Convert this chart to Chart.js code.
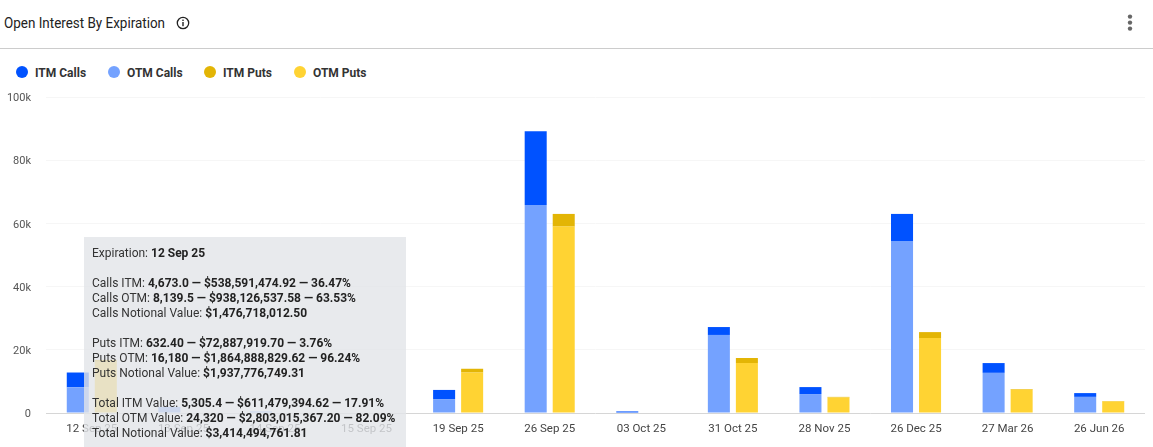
<!DOCTYPE html>
<html>
<head>
<meta charset="utf-8">
<title>Open Interest By Expiration</title>
<script src="https://cdn.jsdelivr.net/npm/chart.js@4"></script>
<style>
  html, body { margin: 0; padding: 0; background: #fff; overflow: hidden; }
  body { width: 1153px; height: 447px; position: relative; font-family: Roboto, sans-serif; color: #222; }
  .header { position: absolute; left: 0; top: 0; width: 100%; height: 48px; border-bottom: 1px solid #ccc; }
  .title { position: absolute; left: 4px; top: 13px; font-size: 15.5px; line-height: 20px; white-space: nowrap; transform: scaleX(0.867); transform-origin: left center; }
  .info { position: absolute; left: 176px; top: 16px; }
  .menu { position: absolute; left: 1125px; top: 13px; }
  #legend { position: absolute; left: 16px; top: 64px; height: 16px; }
  #legend .item { position: absolute; top: 0; white-space: nowrap; font-size: 12px; font-weight: 700; line-height: 16px; color: #333; }
  #legend .dot { position: absolute; left: 0; top: 2px; width: 12px; height: 12px; border-radius: 50%; }
  #legend .text { position: absolute; left: 19px; top: 1px; }
  #wrap { position: absolute; left: 0; top: 90px; width: 1153px; height: 357px; }
  #tip { position: absolute; left: 84px; top: 237px; width: 322px; height: 210px; box-sizing: border-box; padding: 9px 0 0 8px;
         background: rgba(226, 229, 232, 0.8); font-size: 12px; line-height: 15px; color: #333; white-space: nowrap; overflow: hidden; }
  #tip b { color: #222; font-weight: 700; }
  #tip .gap { height: 15px; }
</style>
</head>
<body>
<div class="header">
  <div class="title">Open Interest By Expiration</div>
  <svg class="info" width="14" height="14" viewBox="0 0 14 14">
    <circle cx="7" cy="7" r="5.7" fill="none" stroke="#222" stroke-width="1.3"/>
    <rect x="6.3" y="6" width="1.4" height="4.2" fill="#222"/>
    <rect x="6.3" y="3.6" width="1.4" height="1.4" fill="#222"/>
  </svg>
  <svg class="menu" width="10" height="22" viewBox="0 0 10 22">
    <circle cx="5" cy="3.6" r="2.2" fill="#666"/>
    <circle cx="5" cy="9.6" r="2.2" fill="#666"/>
    <circle cx="5" cy="15.6" r="2.2" fill="#666"/>
  </svg>
</div>
<div id="legend"></div>
<div id="wrap"><canvas id="oiChart"></canvas></div>
<div id="tip"></div>

<script>
const expirations = ['12 Sep 25', '13 Sep 25', '14 Sep 25', '15 Sep 25', '19 Sep 25', '26 Sep 25',
  '03 Oct 25', '31 Oct 25', '28 Nov 25', '26 Dec 25', '27 Mar 26', '26 Jun 26'];

const itmCalls = [4673.0, null, null, null, 2900, 23400, 500, 2500, 2200, 8600, 3100, 1200];
const otmCalls = [8139.5, 1900, 500, null, 4400, 65800, null, 24700, 6000, 54400, 12700, 5100];
const itmPuts = [632.4, null, null, null, 1200, 4000, null, 1600, 200, 1900, 200, 150];
const otmPuts = [16180, null, null, null, 12800, 59000, null, 15800, 4900, 23700, 7400, 3650];

const yTickLabels = { 0: '0', 20000: '20k', 40000: '40k', 60000: '60k', 80000: '80k', 100000: '100k' };
const legendOffsets = [0, 92, 188, 278];

// tooltip rows for the hovered expiration, null is a blank line
const tipRows = [
  ['Expiration: ', '12 Sep 25'],
  null,
  ['Calls ITM: ', '4,673.0 — $538,591,474.92 — 36.47%'],
  ['Calls OTM: ', '8,139.5 — $938,126,537.58 — 63.53%'],
  ['Calls Notional Value: ', '$1,476,718,012.50'],
  null,
  ['Puts ITM: ', '632.40 — $72,887,919.70 — 3.76%'],
  ['Puts OTM: ', '16,180 — $1,864,888,829.62 — 96.24%'],
  ['Puts Notional Value: ', '$1,937,776,749.31'],
  null,
  ['Total ITM Value: ', '5,305.4 — $611,479,394.62 — 17.91%'],
  ['Total OTM Value: ', '24,320 — $2,803,015,367.20 — 82.09%'],
  ['Total Notional Value: ', '$3,414,494,761.81']
];

const barOpts = { categoryPercentage: 0.612, barPercentage: 0.786, borderWidth: 0 };

const htmlLegend = {
  id: 'htmlLegend',
  afterUpdate(chart) {
    const box = document.getElementById('legend');
    box.innerHTML = '';
    chart.data.datasets.forEach((ds, i) => {
      const item = document.createElement('div');
      item.className = 'item';
      item.style.left = legendOffsets[i] + 'px';
      item.innerHTML = `<span class="dot" style="background:${ds.backgroundColor}"></span><span class="text">${ds.label}</span>`;
      box.appendChild(item);
    });
  }
};

new Chart(document.getElementById('oiChart'), {
  type: 'bar',
  data: {
    labels: expirations,
    datasets: [
      // lower order stacks first, so OTM sits under ITM
      { label: 'ITM Calls', data: itmCalls, stack: 'calls', order: 1, backgroundColor: '#0052FF', ...barOpts },
      { label: 'OTM Calls', data: otmCalls, stack: 'calls', order: 0, backgroundColor: '#74A2FF', ...barOpts },
      { label: 'ITM Puts', data: itmPuts, stack: 'puts', order: 1, backgroundColor: '#E3B505', ...barOpts },
      { label: 'OTM Puts', data: otmPuts, stack: 'puts', order: 0, backgroundColor: '#FFD333', ...barOpts }
    ]
  },
  options: {
    responsive: true,
    maintainAspectRatio: false,
    animation: false,
    layout: { padding: { top: 7, right: 8 } },
    plugins: { legend: { display: false }, tooltip: { enabled: false } },
    scales: {
      x: {
        stacked: true,
        afterFit: s => { s.height = 34; s.paddingLeft = 0; s.paddingRight = 0; },
        grid: { display: false },
        border: { display: false },
        ticks: { color: '#444', font: { family: 'Roboto', size: 11.5 }, padding: 1, maxRotation: 0, autoSkip: false }
      },
      y: {
        stacked: true,
        min: 0,
        max: 100000,
        afterFit: s => { s.width = 46; s.paddingTop = 0; s.paddingBottom = 0; },
        border: { display: false },
        grid: {
          drawTicks: false,
          color: c => c.tick.value === 0 ? '#d6d6d6' : '#f6f6f6'
        },
        ticks: {
          stepSize: 20000,
          color: '#555',
          padding: 15,
          labelOffset: 1.5,
          font: { family: 'Roboto', size: 11 },
          callback: v => yTickLabels[v]
        }
      }
    }
  },
  plugins: [htmlLegend]
});

document.getElementById('tip').innerHTML = tipRows
  .map(r => r ? `<div>${r[0]}<b>${r[1]}</b></div>` : '<div class="gap"></div>')
  .join('');
</script>
</body>
</html>
